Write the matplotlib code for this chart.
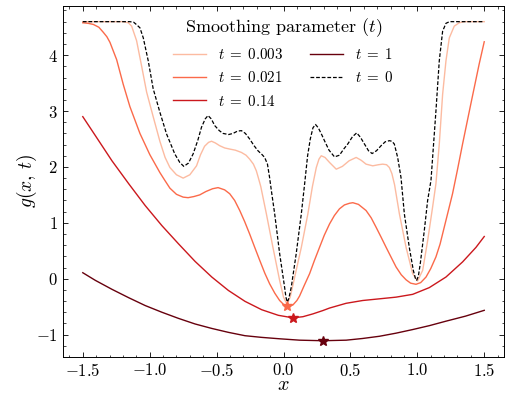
import numpy as np
import matplotlib
matplotlib.use("Agg")
import matplotlib.pyplot as plt

plt.rcParams.update({
    "font.family": "serif",
    "font.serif": ["cmr10"],
    "mathtext.fontset": "cm",
    "axes.formatter.use_mathtext": True,
    "axes.unicode_minus": True,
    "xtick.direction": "in",
    "ytick.direction": "in",
    "xtick.top": True,
    "ytick.right": True,
    "xtick.minor.visible": True,
    "ytick.minor.visible": True,
    "xtick.major.size": 3.5,
    "ytick.major.size": 3.5,
    "xtick.minor.size": 1.8,
    "ytick.minor.size": 1.8,
    "xtick.major.width": 0.6,
    "ytick.major.width": 0.6,
    "xtick.minor.width": 0.5,
    "ytick.minor.width": 0.5,
    "axes.linewidth": 0.7,
})

# Values
x_t0 = [-1.5, -1.3, -1.15, -1.12, -1.10, -1.073, -1.048, -1.011, -0.974, -0.924, -0.874, -0.812,
        -0.775, -0.745, -0.71, -0.676, -0.64, -0.613, -0.585, -0.564, -0.54, -0.514, -0.48, -0.452,
        -0.41, -0.377, -0.345, -0.315, -0.285, -0.253, -0.22, -0.191, -0.16, -0.141, -0.12, -0.104,
        -0.091, -0.066, -0.029, 0.008, 0.018, 0.028, 0.04, 0.058, 0.095, 0.133, 0.157, 0.18, 0.2,
        0.22, 0.239, 0.26, 0.285, 0.306, 0.34, 0.381, 0.418, 0.45, 0.48, 0.515, 0.547, 0.575,
        0.605, 0.635, 0.662, 0.695, 0.729, 0.76, 0.791, 0.81, 0.828, 0.853, 0.878, 0.903, 0.94,
        0.97, 0.985, 0.995, 1.008, 1.022, 1.052, 1.077, 1.102, 1.139, 1.164, 1.189, 1.214, 1.24,
        1.3, 1.5]
y_t0 = [4.6, 4.6, 4.6, 4.59, 4.55, 4.49, 4.31, 3.90, 3.40, 2.98, 2.59, 2.23,
        2.08, 2.01, 2.07, 2.23, 2.48, 2.71, 2.86, 2.92, 2.86, 2.74, 2.65, 2.60,
        2.58, 2.60, 2.64, 2.65, 2.60, 2.50, 2.38, 2.29, 2.22, 2.17, 2.05, 1.81,
        1.58, 1.16, 0.45, -0.15, -0.33, -0.42, -0.35, -0.15, 0.45, 1.16, 1.68, 2.2, 2.5,
        2.7, 2.76, 2.70, 2.58, 2.47, 2.30, 2.18, 2.21, 2.32, 2.41, 2.54, 2.61, 2.53,
        2.41, 2.29, 2.24, 2.29, 2.38, 2.45, 2.47, 2.46, 2.41, 2.17, 1.81, 1.16, 0.56,
        0.15, 0.01, -0.03, 0.05, 0.27, 0.86, 1.40, 1.76, 3.0, 3.90, 4.43, 4.57, 4.6,
        4.6, 4.6]

x_t1 = [-1.5, -1.2, -1.16, -1.135, -1.098, -1.06, -1.023, -0.974, -0.924, -0.885, -0.849, -0.80,
        -0.75, -0.70, -0.65, -0.62, -0.59, -0.56, -0.538, -0.51, -0.477, -0.44, -0.402, -0.36,
        -0.315, -0.28, -0.253, -0.225, -0.203, -0.185, -0.17, -0.128, -0.079, -0.029, 0.0, 0.025,
        0.05, 0.078, 0.133, 0.182, 0.216, 0.245, 0.265, 0.282, 0.31, 0.344, 0.394, 0.44, 0.49,
        0.543, 0.58, 0.617, 0.667, 0.71, 0.741, 0.77, 0.791, 0.81, 0.83, 0.866, 0.916, 0.965,
        1.002, 1.04, 1.077, 1.114, 1.139, 1.164, 1.189, 1.214, 1.239, 1.276, 1.313, 1.35, 1.5]
y_t1 = [4.6, 4.6, 4.58, 4.52, 4.26, 3.80, 3.34, 2.90, 2.46, 2.17, 1.99, 1.86,
        1.80, 1.86, 2.02, 2.22, 2.37, 2.44, 2.46, 2.43, 2.38, 2.34, 2.32, 2.30,
        2.26, 2.21, 2.14, 2.05, 1.93, 1.78, 1.65, 1.16, 0.56, -0.03, -0.33, -0.45,
        -0.33, -0.03, 0.56, 1.16, 1.65, 1.99, 2.14, 2.20, 2.17, 2.08, 1.96, 2.01, 2.11,
        2.17, 2.12, 2.05, 2.02, 2.04, 2.05, 2.04, 1.99, 1.88, 1.68, 1.16, 0.56, 0.09,
        -0.04, 0.15, 0.68, 1.28, 1.70, 2.41, 3.30, 3.90, 4.31, 4.52, 4.58, 4.6, 4.6]

x_t2 = [-1.5, -1.46, -1.421, -1.38, -1.347, -1.32, -1.297, -1.247, -1.198, -1.148, -1.073, -0.999,
        -0.924, -0.887, -0.849, -0.80, -0.75, -0.713, -0.67, -0.626, -0.58, -0.53, -0.489, -0.44,
        -0.402, -0.365, -0.327, -0.29, -0.253, -0.215, -0.178, -0.14, -0.104, -0.065, -0.029, 0.0,
        0.030, 0.07, 0.10, 0.120, 0.155, 0.195, 0.23, 0.269, 0.305, 0.344, 0.38, 0.418, 0.455,
        0.493, 0.518, 0.56, 0.617, 0.655, 0.692, 0.73, 0.767, 0.805, 0.841, 0.88, 0.916, 0.95,
        0.990, 1.025, 1.065, 1.10, 1.139, 1.17, 1.201, 1.23, 1.263, 1.30, 1.338, 1.40, 1.462, 1.5]
y_t2 = [4.58, 4.57, 4.55, 4.50, 4.41, 4.33, 4.23, 3.92, 3.48, 3.08, 2.60, 2.22,
        1.90, 1.76, 1.62, 1.51, 1.46, 1.45, 1.47, 1.50, 1.56, 1.61, 1.63, 1.59,
        1.52, 1.40, 1.22, 1.02, 0.80, 0.56, 0.33, 0.10, -0.09, -0.26, -0.39, -0.46,
        -0.495, -0.47, -0.39, -0.31, -0.12, 0.09, 0.32, 0.56, 0.78, 0.98, 1.13, 1.25, 1.32,
        1.35, 1.36, 1.33, 1.22, 1.09, 0.92, 0.74, 0.56, 0.38, 0.21, 0.07, -0.02, -0.08,
        -0.10, -0.07, 0.03, 0.18, 0.39, 0.62, 0.92, 1.20, 1.52, 1.95, 2.41, 3.13, 3.84, 4.24]

x_t3 = [-1.5, -1.406, -1.282, -1.157, -1.034, -0.909, -0.785, -0.661, -0.536, -0.412, -0.288,
        -0.163, -0.039, 0.07, 0.145, 0.219, 0.294, 0.344, 0.468, 0.592, 0.717, 0.841, 0.965,
        1.089, 1.214, 1.338, 1.438, 1.5]
y_t3 = [2.90, 2.56, 2.11, 1.70, 1.31, 0.95, 0.625, 0.31, 0.03, -0.21, -0.405,
        -0.555, -0.655, -0.70, -0.68, -0.63, -0.57, -0.525, -0.44, -0.39, -0.36, -0.33, -0.28,
        -0.16, 0.03, 0.30, 0.56, 0.755]

x_t4 = [-1.5, -1.406, -1.282, -1.157, -1.034, -0.909, -0.785, -0.661, -0.536, -0.412, -0.288,
        -0.163, -0.03, 0.12, 0.294, 0.468, 0.59, 0.717, 0.84, 0.965, 1.09, 1.214, 1.36, 1.5]
y_t4 = [0.107, -0.03, -0.19, -0.34, -0.48, -0.60, -0.71, -0.81, -0.89, -0.96, -1.02,
        -1.05, -1.075, -1.10, -1.11, -1.10, -1.07, -1.03, -0.975, -0.91, -0.84, -0.76, -0.67, -0.566]

star_x = [0.025, 0.07, 0.294]
star_y = [-0.495, -0.70, -1.11]

labels = [r"$t\;=\;0.003$", r"$t\;=\;0.021$", r"$t\;=\;0.14$", r"$t\;=\;1$"]
colors = ["#fcbba1", "#fb6a4a", "#cb181d", "#67000d"]

fig = plt.figure(figsize=(5.07, 3.93), dpi=100)
ax = fig.add_axes([0.1237, 0.0924, 0.871, 0.8931])

series = [(x_t1, y_t1), (x_t2, y_t2), (x_t3, y_t3), (x_t4, y_t4)]
for (xs, ys), lab, c in zip(series, labels, colors):
    ax.plot(xs, ys, color=c, lw=1.0, label=lab)
ax.plot(x_t0, y_t0, color="black", ls="--", lw=0.9, dashes=(3, 1.5), label=r"$t\;=\;0$")

for sx, sy, c in zip(star_x, star_y, colors[1:]):
    ax.plot(sx, sy, marker="*", ms=7, color=c, ls="none")

ax.set_xticks([-1.5, -1.0, -0.5, 0.0, 0.5, 1.0, 1.5])
ax.set_yticks([-1, 0, 1, 2, 3, 4])
ax.tick_params(labelsize=12)
ax.set_xlabel("$x$", fontsize=14.5, labelpad=-1.5)
ax.set_ylabel(r"$g(x,\,t)$", fontsize=14, labelpad=-2)

leg = ax.legend(loc="upper center", ncol=2, frameon=False, fontsize=10.8,
                title="Smoothing parameter ($t$)", title_fontsize=13,
                borderaxespad=0.3, handlelength=2.2, labelspacing=0.55, columnspacing=1.8)

fig.savefig("out.png", dpi=100)
